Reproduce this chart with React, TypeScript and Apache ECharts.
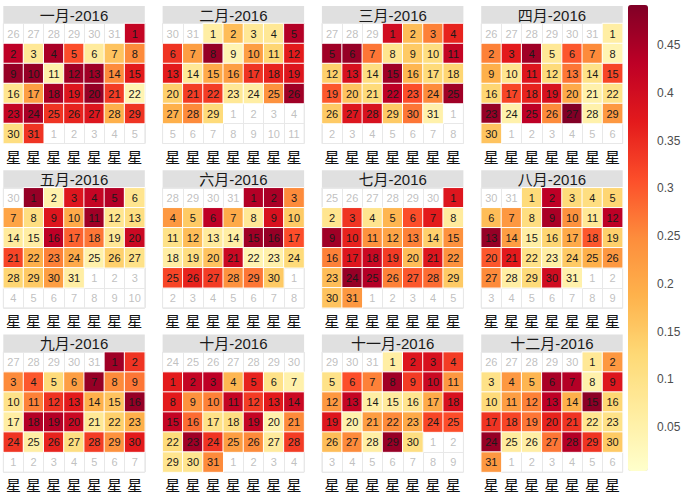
import React, { useEffect, useRef } from "react";
import * as echarts from "echarts";

const YEAR = 2016;
const MONTH_NAMES = ["一月", "二月", "三月", "四月", "五月", "六月", "七月", "八月", "九月", "十月", "十一月", "十二月"];
const WEEKDAYS = ["星期六", "星期日", "星期一", "星期二", "星期三", "星期四", "星期五"];
const WEEK_ROWS = ["1", "2", "3", "4", "5", "6"];
const LEGEND_TICKS = [0.05, 0.1, 0.15, 0.2, 0.25, 0.3, 0.35, 0.4, 0.45];
const VALUE_MIN = 0.004;
const VALUE_MAX = 0.492;
const PALETTE = ["#FFFFCC", "#FFEDA0", "#FED976", "#FEB24C", "#FD8D3C", "#FC4E2A", "#E31A1C", "#BD0026", "#800026"];

const JAN = [0.42, 0.43, 0.08, 0.45, 0.31, 0.07, 0.16, 0.25, 0.47, 0.47, 0.05, 0.46, 0.46, 0.25, 0.37, 0.09, 0.22, 0.45, 0.38, 0.47, 0.33, 0.04, 0.42, 0.45, 0.34, 0.36, 0.38, 0.19, 0.34, 0.11, 0.34];
const FEB = [0.06, 0.17, 0.08, 0.08, 0.44, 0.34, 0.22, 0.47, 0.04, 0.22, 0.13, 0.37, 0.37, 0.08, 0.2, 0.22, 0.34, 0.36, 0.38, 0.14, 0.33, 0.33, 0.08, 0.06, 0.24, 0.46, 0.19, 0.25, 0.12];
const MAR = [0.4, 0.17, 0.26, 0.36, 0.46, 0.47, 0.27, 0.09, 0.15, 0.11, 0.42, 0.14, 0.39, 0.11, 0.46, 0.18, 0.12, 0.13, 0.3, 0.16, 0.12, 0.43, 0.31, 0.25, 0.46, 0.15, 0.38, 0.39, 0.15, 0.27, 0.05];
const APR = [0.06, 0.26, 0.37, 0.46, 0.08, 0.3, 0.25, 0.04, 0.19, 0.09, 0.38, 0.12, 0.27, 0.1, 0.32, 0.13, 0.32, 0.36, 0.39, 0.2, 0.05, 0.1, 0.47, 0.05, 0.43, 0.25, 0.49, 0.05, 0.23, 0.16];
const MAY = [0.47, 0.05, 0.38, 0.42, 0.44, 0.09, 0.21, 0.11, 0.38, 0.2, 0.46, 0.09, 0.11, 0.07, 0.06, 0.43, 0.29, 0.27, 0.08, 0.41, 0.32, 0.19, 0.26, 0.2, 0.05, 0.14, 0.1, 0.13, 0.15, 0.22, 0.06];
const JUN = [0.44, 0.45, 0.25, 0.23, 0.15, 0.43, 0.2, 0.08, 0.39, 0.15, 0.1, 0.17, 0.07, 0.06, 0.46, 0.47, 0.31, 0.06, 0.11, 0.16, 0.41, 0.04, 0.05, 0.12, 0.32, 0.36, 0.33, 0.24, 0.27, 0.15];
const JUL = [0.38, 0.09, 0.34, 0.09, 0.18, 0.31, 0.37, 0.07, 0.46, 0.36, 0.24, 0.21, 0.26, 0.14, 0.24, 0.26, 0.38, 0.41, 0.33, 0.17, 0.38, 0.24, 0.17, 0.47, 0.44, 0.26, 0.3, 0.28, 0.15, 0.16, 0.23];
const AUG = [0.12, 0.43, 0.12, 0.11, 0.13, 0.17, 0.23, 0.11, 0.45, 0.24, 0.08, 0.43, 0.47, 0.22, 0.06, 0.13, 0.2, 0.3, 0.14, 0.3, 0.37, 0.1, 0.06, 0.15, 0.19, 0.23, 0.25, 0.06, 0.12, 0.4, 0.05];
const SEP = [0.46, 0.34, 0.25, 0.3, 0.12, 0.22, 0.47, 0.25, 0.27, 0.1, 0.26, 0.34, 0.37, 0.19, 0.16, 0.47, 0.06, 0.44, 0.44, 0.41, 0.08, 0.14, 0.19, 0.34, 0.06, 0.36, 0.11, 0.33, 0.24, 0.37];
const OCT = [0.37, 0.42, 0.43, 0.18, 0.36, 0.1, 0.05, 0.37, 0.24, 0.26, 0.42, 0.33, 0.37, 0.41, 0.42, 0.28, 0.1, 0.11, 0.42, 0.05, 0.25, 0.12, 0.46, 0.34, 0.22, 0.25, 0.07, 0.33, 0.09, 0.09, 0.25];
const NOV = [0.06, 0.38, 0.39, 0.33, 0.1, 0.31, 0.26, 0.46, 0.33, 0.41, 0.23, 0.23, 0.42, 0.06, 0.07, 0.09, 0.2, 0.39, 0.38, 0.05, 0.22, 0.25, 0.2, 0.32, 0.31, 0.17, 0.25, 0.06, 0.47, 0.11];
const DEC = [0.08, 0.23, 0.1, 0.23, 0.18, 0.45, 0.44, 0.05, 0.38, 0.12, 0.22, 0.26, 0.43, 0.19, 0.48, 0.13, 0.34, 0.32, 0.27, 0.36, 0.34, 0.09, 0.1, 0.47, 0.07, 0.06, 0.27, 0.44, 0.34, 0.15, 0.23];

const MONTH_VALUES = [JAN, FEB, MAR, APR, MAY, JUN, JUL, AUG, SEP, OCT, NOV, DEC];

// layout
const PANEL_LEFT0 = 3.3;
const PANEL_PITCH_X = 159.3;
const PANEL_W = 141.5;
const GRID_TOP0 = 23.5;
const PANEL_PITCH_Y = 164.3;
const GRID_H = 120;
const STRIP_H = 17.5;
const FONT = '"Liberation Sans", Arial, "Noto Sans CJK SC", sans-serif';

function monthCells(m: number, values: number[]) {
  const first = new Date(Date.UTC(YEAR, m, 1));
  const col = (first.getUTCDay() + 1) % 7;
  const offset = col === 0 ? 7 : col;
  const inMonth: any[] = [];
  const outMonth: any[] = [];
  for (let i = 0; i < 42; i++) {
    const d = new Date(Date.UTC(YEAR, m, 1 - offset + i));
    const x = i % 7;
    const y = Math.floor(i / 7);
    const day = d.getUTCDate();
    if (d.getUTCMonth() === m) inMonth.push([x, y, values[day - 1], day]);
    else outMonth.push([x, y, day]);
  }
  return { inMonth, outMonth };
}

export default function App() {
  const ref = useRef<HTMLDivElement>(null);
  useEffect(() => {
    document.body.style.margin = "0";
    if (!ref.current) return;
    const chart = echarts.init(ref.current, null, { renderer: "svg" });
    const grids: any[] = [];
    const xAxes: any[] = [];
    const yAxes: any[] = [];
    const series: any[] = [];
    const graphics: any[] = [];
    const heatIdx: number[] = [];
    MONTH_VALUES.forEach((vals, i) => {
      const r = Math.floor(i / 4);
      const c = i % 4;
      const left = PANEL_LEFT0 + c * PANEL_PITCH_X;
      const top = GRID_TOP0 + r * PANEL_PITCH_Y;
      grids.push({
        left, top, width: PANEL_W, height: GRID_H,
        show: true, backgroundColor: "#ffffff", borderColor: "#e8e8e8", borderWidth: 1,
      });
      xAxes.push({
        gridIndex: i, type: "category", data: WEEKDAYS,
        axisLine: { show: false }, axisTick: { show: false },
        axisLabel: { interval: 0, formatter: (v: string) => v.slice(0, 1), fontSize: 15, color: "#111111", margin: 6, fontFamily: FONT },
        splitLine: { show: true, interval: 0, lineStyle: { color: "#e8e8e8", width: 1 } },
      });
      yAxes.push({
        gridIndex: i, type: "category", data: WEEK_ROWS, inverse: true,
        axisLine: { show: false }, axisTick: { show: false }, axisLabel: { show: false },
        splitLine: { show: true, interval: 0, lineStyle: { color: "#e8e8e8", width: 1 } },
      });
      const { inMonth, outMonth } = monthCells(i, vals);
      heatIdx.push(series.length);
      series.push({
        type: "heatmap", xAxisIndex: i, yAxisIndex: i, data: inMonth,
        itemStyle: { borderColor: "#ffffff", borderWidth: 1 },
        label: { show: true, formatter: (p: any) => String(p.value[3]), fontSize: 11, color: "#1a1a1a", fontFamily: FONT },
        emphasis: { disabled: true },
      });
      series.push({
        type: "scatter", xAxisIndex: i, yAxisIndex: i, data: outMonth,
        symbol: "rect", symbolSize: 2, itemStyle: { color: "rgba(0,0,0,0)" },
        label: { show: true, position: "inside", formatter: (p: any) => String(p.value[2]), fontSize: 11, color: "#b0b0b0", fontFamily: FONT },
        emphasis: { disabled: true },
        silent: true,
      });
      graphics.push({
        type: "rect", shape: { x: left, y: top - STRIP_H, width: PANEL_W, height: STRIP_H },
        style: { fill: "#e0e0e0" }, silent: true,
      });
      graphics.push({
        type: "text", x: left + PANEL_W / 2, y: top - STRIP_H / 2 + 0.5,
        style: { text: MONTH_NAMES[i] + "-" + YEAR, fill: "#1a1a1a", fontSize: 15, fontFamily: FONT, align: "center", verticalAlign: "middle" },
        silent: true,
      });
    });
    // colour bar axis
    grids.push({ left: 628, top: 5, width: 20, height: 466, show: false });
    xAxes.push({ gridIndex: 12, type: "value", show: false });
    yAxes.push({
      gridIndex: 12, type: "value", min: VALUE_MIN, max: VALUE_MAX, position: "right",
      axisLine: { show: false }, axisTick: { show: false }, splitLine: { show: false },
      axisLabel: { customValues: LEGEND_TICKS, margin: 9, fontSize: 12, color: "#4d4d4d", fontFamily: FONT, formatter: (v: number) => String(+v.toFixed(2)) },
    });
    chart.setOption({
      animation: false,
      backgroundColor: "#ffffff",
      grid: grids,
      xAxis: xAxes,
      yAxis: yAxes,
      visualMap: {
        type: "continuous", min: VALUE_MIN, max: VALUE_MAX, dimension: 2, seriesIndex: heatIdx,
        left: 628, top: 5, itemWidth: 20, itemHeight: 466, padding: 0, calculable: false,
        inRange: { color: PALETTE },
      },
      graphic: graphics,
      series,
    });
    return () => chart.dispose();
  }, []);
  return <div ref={ref} style={{ width: 691, height: 496 }} />;
}
